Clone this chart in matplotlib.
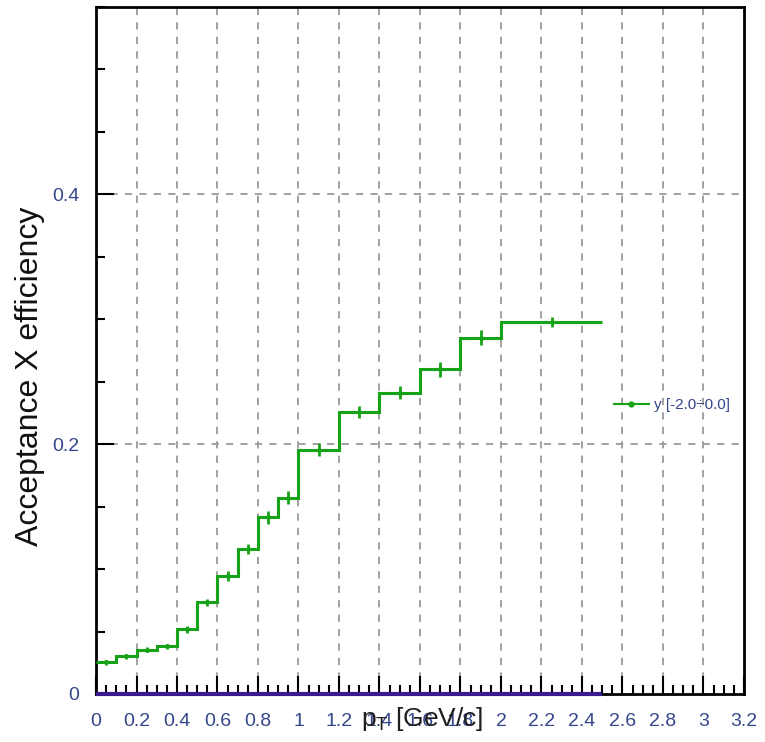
import numpy as np
import matplotlib.pyplot as plt
from matplotlib.ticker import MultipleLocator

plt.rcParams['font.family'] = ['Liberation Sans', 'DejaVu Sans']
plt.rcParams['mathtext.fontset'] = 'custom'
plt.rcParams['mathtext.rm'] = 'Liberation Sans'

# pT bin edges [GeV/c] and acceptance x efficiency per bin
edges = [0.0, 0.1, 0.2, 0.3, 0.4, 0.5, 0.6, 0.7, 0.8, 0.9, 1.0,
         1.2, 1.4, 1.6, 1.8, 2.0, 2.5]
acc_eff = [0.0254, 0.0304, 0.0355, 0.0384, 0.0517, 0.0733, 0.0944, 0.1157,
           0.1413, 0.1572, 0.1957, 0.2259, 0.2413, 0.2600, 0.2853, 0.2976]
errors = [0.002, 0.002, 0.002, 0.002, 0.003, 0.003, 0.004, 0.004,
          0.005, 0.005, 0.005, 0.005, 0.005, 0.006, 0.006, 0.004]
label = 'y [-2.0÷0.0]'

green = '#17a317'
tick_col = '#34468a'

fig = plt.figure(figsize=(7.65, 7.42), dpi=100)
ax = fig.add_axes([0.1255, 0.0647, 0.8470, 0.9259])

edges_a = np.array(edges)
centers = 0.5 * (edges_a[:-1] + edges_a[1:])

ax.stairs(acc_eff, edges, color=green, lw=2.2, baseline=None, zorder=3)
ax.errorbar(centers, acc_eff, yerr=errors, fmt='none', ecolor=green,
            elinewidth=2, zorder=3)
ax.plot(centers, acc_eff, 'o', color=green, ms=2.5, zorder=3)
ax.plot([], [], '-o', color=green, lw=1.5, ms=3.5, label=label)
ax.hlines(0, edges[0], edges[-1], color='#3a1a8c', lw=3, zorder=5,
          clip_on=False)

ax.set_xlim(0, 3.2)
ax.set_ylim(0, 0.55)

ax.xaxis.set_minor_locator(MultipleLocator(0.05))
ax.yaxis.set_minor_locator(MultipleLocator(0.05))
ax.set_xticks(np.arange(0, 3.21, 0.2))
ax.set_xticklabels(['0', '0.2', '0.4', '0.6', '0.8', '1', '1.2', '1.4', '1.6',
                    '1.8', '2', '2.2', '2.4', '2.6', '2.8', '3', '3.2'])
ax.set_yticks([0, 0.2, 0.4])
ax.set_yticklabels(['0', '0.2', '0.4'])

ax.tick_params(which='both', direction='in', top=False, right=False,
               labelsize=14, labelcolor=tick_col, width=1.5)
ax.tick_params(which='major', length=13)
ax.tick_params(which='minor', length=6.5)
ax.tick_params(axis='x', pad=14)
ax.tick_params(axis='y', pad=12)

for x in np.arange(0.2, 3.1, 0.2):
    ax.axvline(x, color='#9a9a9a', lw=1.3, ls=(0, (4, 4)), zorder=1)
for y in [0.2, 0.4]:
    ax.axhline(y, color='#9a9a9a', lw=1.3, ls=(0, (4, 4)), zorder=1)

for s in ax.spines.values():
    s.set_linewidth(2)
    s.set_color('black')

fig.text(0.039, 0.493, 'Acceptance X efficiency', rotation=90,
         ha='center', va='center', fontsize=23, color='#111111')
fig.text(0.552, 0.031, r'p$_{\mathrm{T}}$ [GeV/c]', ha='center', va='center',
         fontsize=19, color='#1f1f1f')

ax.legend(loc='center left', bbox_to_anchor=(0.778, 0.42), frameon=False,
          fontsize=11, handlelength=2.3, handletextpad=0.3,
          labelcolor=tick_col)

fig.savefig('out.png', dpi=100)
